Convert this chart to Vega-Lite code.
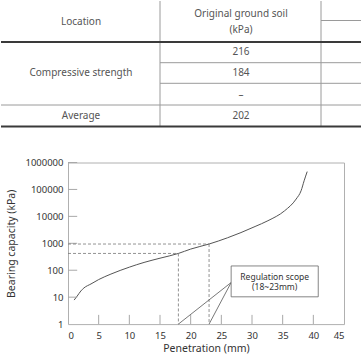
{
  "$schema": "https://vega.github.io/schema/vega-lite/v6.json",
  "padding": 0,
  "spacing": 28.5,
  "config": {"view": {"stroke": null}, "font": "Noto Sans"},
  "datasets": {
    "tableLines": [
      {"x": 159, "x2": 159, "y": 0, "y2": 125.5, "kind": "thin"},
      {"x": 320, "x2": 320, "y": 0, "y2": 125.5, "kind": "thin"},
      {"x": 320, "x2": 361, "y": 19.5, "y2": 19.5, "kind": "thin"},
      {"x": 0, "x2": 361, "y": 41, "y2": 41, "kind": "thick"},
      {"x": 159, "x2": 361, "y": 61.7, "y2": 61.7, "kind": "thin"},
      {"x": 159, "x2": 361, "y": 82.3, "y2": 82.3, "kind": "thin"},
      {"x": 0, "x2": 361, "y": 104, "y2": 104, "kind": "thin"},
      {"x": 0, "x2": 361, "y": 125.5, "y2": 125.5, "kind": "thick"}
    ],
    "tableText": [
      {"x": 80, "y": 20.7, "label": "Location"},
      {"x": 240, "y": 13.3, "label": "Original ground soil"},
      {"x": 240, "y": 29.3, "label": "(kPa)"},
      {"x": 240, "y": 51.2, "label": "216"},
      {"x": 240, "y": 72.3, "label": "184"},
      {"x": 240, "y": 93.5, "label": "–"},
      {"x": 80, "y": 72.3, "label": "Compressive strength"},
      {"x": 80, "y": 114.5, "label": "Average"},
      {"x": 240, "y": 114.5, "label": "202"}
    ],
    "curve": [
      {"x": 1.0, "y": 7.8}, {"x": 1.5, "y": 11}, {"x": 2.1, "y": 17}, {"x": 2.6, "y": 22},
      {"x": 3.75, "y": 31}, {"x": 5, "y": 45}, {"x": 7, "y": 72}, {"x": 10, "y": 130},
      {"x": 12.4, "y": 195}, {"x": 15, "y": 280}, {"x": 18, "y": 420}, {"x": 20, "y": 610},
      {"x": 23, "y": 940}, {"x": 26, "y": 1600}, {"x": 28.2, "y": 2500}, {"x": 30.5, "y": 4200},
      {"x": 32.6, "y": 6900}, {"x": 35.3, "y": 16000}, {"x": 37.2, "y": 44000}, {"x": 38, "y": 89000},
      {"x": 38.5, "y": 210000}, {"x": 39, "y": 460000}
    ],
    "xTicks": [{"x": 5}, {"x": 10}, {"x": 15}, {"x": 20}, {"x": 25}, {"x": 30}, {"x": 35}, {"x": 40}],
    "yTicks": [{"y": 10}, {"y": 100}, {"y": 1000}, {"y": 10000}, {"y": 100000}, {"y": 1000000}],
    "refs": [
      {"x": 0, "x2": 23, "y": 940, "y2": 940},
      {"x": 0, "x2": 18, "y": 420, "y2": 420},
      {"x": 18, "x2": 18, "y": 420, "y2": 1},
      {"x": 23, "x2": 23, "y": 940, "y2": 1}
    ],
    "leaders": [
      {"x": 26.6, "x2": 18, "y": 35, "y2": 1},
      {"x": 26.6, "x2": 23, "y": 35, "y2": 1}
    ],
    "box": [{"x": 26.6, "x2": 40.8, "y": 144, "y2": 10.3}],
    "boxText": [
      {"x": 33.7, "y": 57, "label": "Regulation scope"},
      {"x": 33.7, "y": 23, "label": "(18~23mm)"}
    ]
  },
  "vconcat": [
    {
      "width": 294,
      "height": 126,
      "layer": [
        {
          "data": {"name": "tableLines"},
          "mark": {"type": "rule"},
          "encoding": {
            "x": {"field": "x", "type": "quantitative", "scale": {"domain": [67, 361], "nice": false, "zero": false}, "axis": null},
            "x2": {"field": "x2"},
            "y": {"field": "y", "type": "quantitative", "scale": {"domain": [0, 126], "reverse": true, "nice": false}, "axis": null},
            "y2": {"field": "y2"},
            "strokeWidth": {"field": "kind", "type": "nominal", "scale": {"domain": ["thin", "thick"], "range": [1, 2]}, "legend": null},
            "color": {"field": "kind", "type": "nominal", "scale": {"domain": ["thin", "thick"], "range": ["#9a9a9a", "#3a3a3a"]}, "legend": null}
          }
        },
        {
          "data": {"name": "tableText"},
          "mark": {"type": "text", "fontSize": 10, "color": "#555", "baseline": "middle", "align": "center"},
          "encoding": {
            "x": {"field": "x", "type": "quantitative", "axis": null},
            "y": {"field": "y", "type": "quantitative", "axis": null},
            "text": {"field": "label"}
          }
        }
      ]
    },
    {
      "width": 276,
      "height": 161.6,
      "view": {"stroke": "#b0b0b0"},
      "resolve": {"axis": {"x": "independent", "y": "independent"}},
      "layer": [
        {
          "data": {"name": "curve"},
          "mark": {"type": "line", "color": "#555", "strokeWidth": 1, "interpolate": "monotone"},
          "encoding": {
            "x": {"field": "x", "type": "quantitative", "scale": {"domain": [0, 45], "nice": false},
              "axis": {"values": [0, 5, 10, 15, 20, 25, 30, 35, 40, 45], "title": "Penetration (mm)", "grid": false, "domain": false,
                "ticks": false, "tickSize": 0, "labelPadding": 6, "labelOverlap": false, "labelFontSize": 9.5, "labelColor": "#333",
                "titleFontSize": 10.5, "titleFontWeight": "normal", "titleColor": "#333", "titlePadding": 4}},
            "y": {"field": "y", "type": "quantitative", "scale": {"type": "log", "domain": [1, 1000000], "nice": false},
              "axis": {"values": [1, 10, 100, 1000, 10000, 100000, 1000000], "format": "d", "title": "Bearing capacity (kPa)", "grid": false, "domain": false,
                "ticks": false, "tickSize": 0, "labelPadding": 5, "labelOverlap": false, "labelFontSize": 9.5, "labelColor": "#333",
                "titleFontSize": 10.5, "titleFontWeight": "normal", "titleColor": "#333", "titlePadding": 8.5}}
          }
        },
        {
          "data": {"name": "xTicks"},
          "mark": {"type": "rule", "color": "#a8a8a8", "strokeWidth": 1},
          "encoding": {
            "x": {"field": "x", "type": "quantitative", "axis": null},
            "y": {"datum": 1, "type": "quantitative", "axis": null},
            "y2": {"datum": 2.2}
          }
        },
        {
          "data": {"name": "yTicks"},
          "mark": {"type": "rule", "color": "#a8a8a8", "strokeWidth": 1},
          "encoding": {
            "y": {"field": "y", "type": "quantitative", "axis": null},
            "x": {"datum": 0, "type": "quantitative", "axis": null},
            "x2": {"datum": 1.5}
          }
        },
        {
          "data": {"name": "refs"},
          "mark": {"type": "rule", "color": "#777", "strokeWidth": 0.8, "strokeDash": [3, 2]},
          "encoding": {
            "x": {"field": "x", "type": "quantitative", "axis": null},
            "x2": {"field": "x2"},
            "y": {"field": "y", "type": "quantitative", "axis": null},
            "y2": {"field": "y2"}
          }
        },
        {
          "data": {"name": "leaders"},
          "mark": {"type": "rule", "color": "#555", "strokeWidth": 0.8},
          "encoding": {
            "x": {"field": "x", "type": "quantitative", "axis": null},
            "x2": {"field": "x2"},
            "y": {"field": "y", "type": "quantitative", "axis": null},
            "y2": {"field": "y2"}
          }
        },
        {
          "data": {"name": "box"},
          "mark": {"type": "rect", "fill": "white", "stroke": "#666", "strokeWidth": 0.8},
          "encoding": {
            "x": {"field": "x", "type": "quantitative", "axis": null},
            "x2": {"field": "x2"},
            "y": {"field": "y", "type": "quantitative", "axis": null},
            "y2": {"field": "y2"}
          }
        },
        {
          "data": {"name": "boxText"},
          "mark": {"type": "text", "fontSize": 8.5, "color": "#333", "baseline": "middle", "align": "center"},
          "encoding": {
            "x": {"field": "x", "type": "quantitative", "axis": null},
            "y": {"field": "y", "type": "quantitative", "axis": null},
            "text": {"field": "label"}
          }
        }
      ]
    }
  ]
}
